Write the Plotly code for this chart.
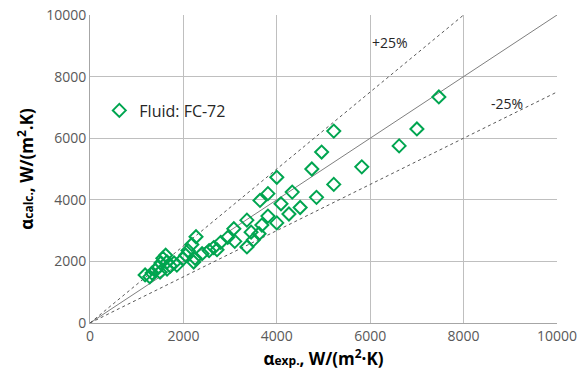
import plotly.graph_objects as go

# Experimental vs calculated heat transfer coefficient, W/(m2 K)
alpha_exp = [1180, 1280, 1330, 1400, 1450, 1500, 1520, 1560, 1620, 1650, 1650, 1720, 1800, 1860,
             1990, 2050, 2100, 2180, 2270, 2220, 2250, 2400, 2550, 2650, 2720, 2800, 2950, 3080,
             3100, 3360, 3360, 3450, 3500, 3620, 3680, 3640, 3810, 3810, 4000, 4000, 4090, 4260,
             4330, 4500, 4750, 4850, 4960, 5220, 5220, 5820, 6620, 7000, 7470]
alpha_calc = [1560, 1500, 1620, 1700, 1800, 1650, 1950, 2100, 2200, 1980, 1750, 1850, 1950, 1880,
              2080, 2200, 2350, 2550, 2800, 1980, 2100, 2250, 2350, 2450, 2380, 2620, 2780, 3060,
              2650, 2470, 3340, 2950, 2700, 2900, 3180, 3980, 4200, 3470, 3250, 4730, 3870, 3540,
              4250, 3750, 5000, 4080, 5550, 6230, 4500, 5070, 5750, 6300, 7340]

ref_x = [0, 10000]
ref_y = [0, 10000]
plus_x = [0, 8000]
plus_y = [0, 10000]
minus_x = [0, 10000]
minus_y = [0, 7500]
tick_vals = [0, 2000, 4000, 6000, 8000, 10000]
tick_text = ["0", "2000", "4000", "6000", "8000", "10000"]

fig = go.Figure()
fig.add_trace(go.Scatter(x=ref_x, y=ref_y, mode="lines",
                         line=dict(color="#7f7f7f", width=1), showlegend=False))
fig.add_trace(go.Scatter(x=plus_x, y=plus_y, mode="lines",
                         line=dict(color="#595959", width=1, dash="dot"), showlegend=False))
fig.add_trace(go.Scatter(x=minus_x, y=minus_y, mode="lines",
                         line=dict(color="#595959", width=1, dash="dot"), showlegend=False))
fig.add_trace(go.Scatter(x=alpha_exp, y=alpha_calc, mode="markers", name="Fluid: FC-72",
                         marker=dict(symbol="diamond-open", size=10, color="#00A550",
                                     line=dict(width=2, color="#00A550"))))

fig.add_annotation(x=6420, y=9120, text="+25%", showarrow=False,
                   font=dict(size=14, color="#262626"))
fig.add_annotation(x=8930, y=7140, text="-25%", showarrow=False,
                   font=dict(size=14, color="#262626"))

axis_common = dict(range=[0, 10000], tickvals=tick_vals, ticktext=tick_text, showgrid=True,
                   gridcolor="#bfbfbf", gridwidth=1, zeroline=False, automargin=False,
                   showline=True, linecolor="#a6a6a6", linewidth=1,
                   ticks="", tickfont=dict(size=14, color="#595959"))

fig.update_layout(
    width=579, height=381,
    margin=dict(l=90, r=22, t=15, b=58),
    paper_bgcolor="white", plot_bgcolor="white",
    font=dict(family="Open Sans, Liberation Sans, sans-serif"),
    xaxis=dict(**axis_common,
               title=dict(text="<b>α<span style='font-size:12px'>exp.</span>, W/(m<sup>2</sup>·K)</b>",
                          font=dict(size=17, color="black"), standoff=4)),
    yaxis=dict(**axis_common,
               title=dict(text="<b>α<span style='font-size:12px'>calc.</span>, W/(m<sup>2</sup>.K)</b>",
                          font=dict(size=17, color="black"), standoff=8)),
    legend=dict(x=0.02, y=0.69, xanchor="left", yanchor="middle",
                bgcolor="rgba(255,255,255,0)", font=dict(size=16, color="#262626"),
                itemwidth=30),
)

fig.write_html("out.html")
